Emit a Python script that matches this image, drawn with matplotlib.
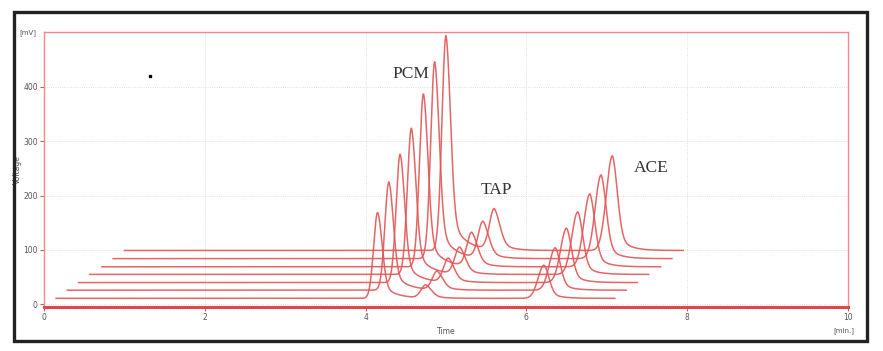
import numpy as np
import matplotlib.pyplot as plt
from matplotlib.patches import Rectangle

# 7 overlaid chromatograms, each shifted right/up (pseudo 3D view)
time_offset = [0.15, 0.29, 0.43, 0.57, 0.72, 0.86, 1.00]   # min
volt_offset = [11, 26, 40, 55, 69, 84, 99]                  # mV
pcm_height = [158, 199, 236, 269, 318, 362, 395]
tap_height = [24, 34, 44, 49, 62, 67, 75]
ace_height = [61, 78, 100, 115, 134, 154, 174]

compounds = ["PCM", "TAP", "ACE"]
retention = [4.00, 4.60, 6.07]          # min, in each run's own time
run_length = 6.95
# peak shape per compound: left sigma, right sigma, tail fraction, tail tau
shapes = [(0.05, 0.055, 0.22, 0.16),
          (0.06, 0.07, 0.30, 0.13),
          (0.075, 0.062, 0.25, 0.13)]

labels = ["PCM", "TAP", "ACE"]
label_xy = [(4.56, 423), (5.63, 210), (7.55, 251)]

RED = '#e25555'


def peak(t, tr, sl, sr, a, tau):
	d = t - tr
	left = np.exp(-d**2 / (2 * sl**2))
	right = (1 - a) * np.exp(-d**2 / (2 * sr**2)) + a * np.exp(-np.clip(d, 0, None) / tau)
	return np.where(d < 0, left, right)


fig = plt.figure(figsize=(8.83, 3.51), dpi=100)
ax = fig.add_axes([44/883, 1 - 306.5/351, 804/883, 274.2/351])

t = np.linspace(0, run_length, 2000)
for i in range(len(time_offset)):
	heights = [pcm_height[i], tap_height[i], ace_height[i]]
	y = np.zeros_like(t)
	for h, tr, sh in zip(heights, retention, shapes):
		y += h * peak(t, tr, *sh)
	ax.plot(t + time_offset[i], y + volt_offset[i], color=RED, lw=1.1, alpha=0.9)

for txt, (x, y) in zip(labels, label_xy):
	ax.text(x, y, txt, family='Liberation Serif', fontsize=12.5, color='#333333',
			ha='center', va='center')

ax.plot([1.32], [420], marker='s', ms=1.5, color='black')

ax.set_xlim(0, 10)
ax.set_ylim(-4, 500)
ax.set_xticks([0, 2, 4, 6, 8, 10])
ax.set_yticks([0, 100, 200, 300, 400])
ax.tick_params(axis='both', labelsize=5.5, labelcolor='#555555', color=RED,
			   length=3, width=0.8, pad=1.5)
ax.grid(True, linestyle=':', color='#d5d5d5', lw=0.6)

for s in ['top', 'right', 'left']:
	ax.spines[s].set_color('#f08a8a')
	ax.spines[s].set_linewidth(1.0)
ax.spines['bottom'].set_color('#e04848')
ax.spines['bottom'].set_linewidth(2.2)

ax.set_xlabel('Time', fontsize=5.5, color='#555555', labelpad=4)
ax.set_ylabel('Voltage', fontsize=5.5, color='#555555', labelpad=1)
ax.text(-0.01, 1.0, '[mV]', transform=ax.transAxes, ha='right', va='center',
		fontsize=5, color='#555555')
ax.text(0.995, -0.075, '[min.]', transform=ax.transAxes, ha='center', va='top',
		fontsize=5, color='#555555')

# dark outer frame around the whole picture
fig.patches.append(Rectangle((14/883, 1 - 341/351), 853/883, 329/351,
							 transform=fig.transFigure, fill=False,
							 edgecolor='#222222', lw=2.4))

fig.savefig('out.png', dpi=100)
